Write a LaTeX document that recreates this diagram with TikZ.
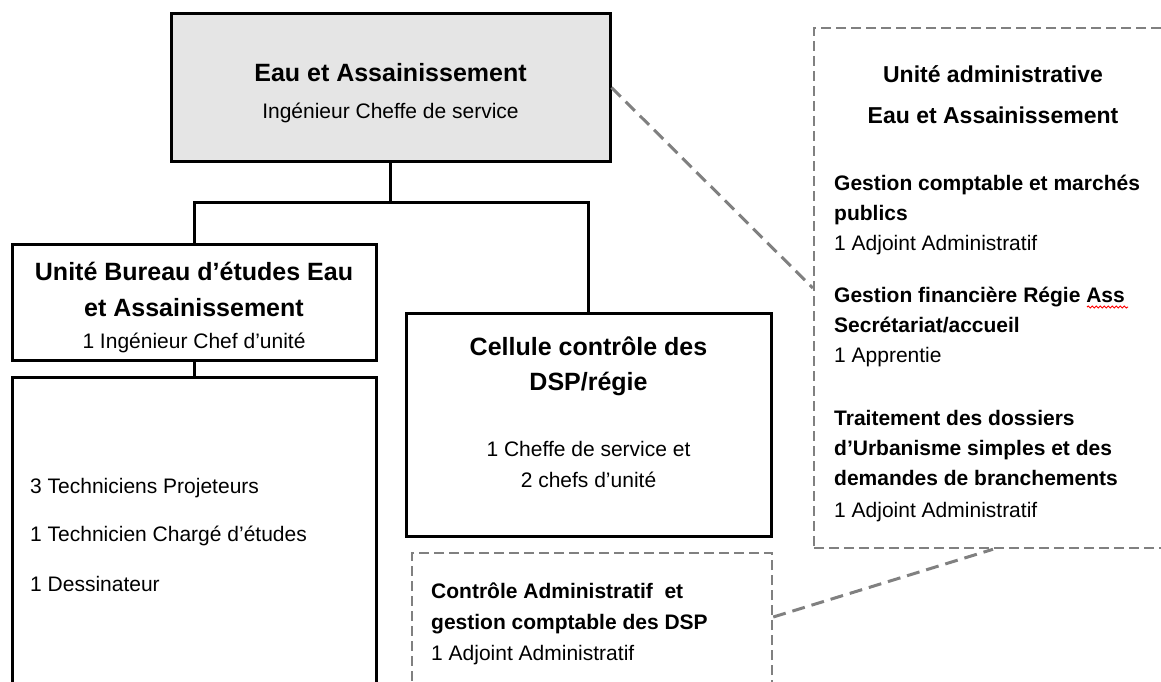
\documentclass[tikz,border=0pt]{standalone}
\usepackage{fontspec}
\setmainfont{Liberation Sans}
\usetikzlibrary{decorations.pathmorphing}

\begin{document}
\begin{tikzpicture}[x=1pt,y=-1pt,
    boite/.style={draw=black,line width=3pt,inner sep=0pt},
    cadre/.style={draw=gray,line width=2.5pt,dash pattern=on 10pt off 5pt,inner sep=0pt},
    lien/.style={draw=black,line width=3pt},
    renvoi/.style={draw=gray,line width=3pt,dash pattern=on 13pt off 7pt},
    titre/.style={font=\fontsize{25}{30}\selectfont\bfseries,anchor=base,inner sep=0pt},
    entete/.style={font=\fontsize{23}{28}\selectfont\bfseries,anchor=base,inner sep=0pt},
    centre/.style={font=\fontsize{21}{25}\selectfont,anchor=base,inner sep=0pt},
    gras/.style={font=\fontsize{21}{25}\selectfont\bfseries,anchor=base west,inner sep=0pt},
    texte/.style={font=\fontsize{21}{25}\selectfont,anchor=base west,inner sep=0pt}]
    \useasboundingbox (0,0) rectangle (1161,682);
    \clip (0,0) rectangle (1161,682);
    \node[boite,fill=gray!20,minimum width=439pt,minimum height=147pt] (chef) at (390.5,87.5) {};
    \node[boite,minimum width=364pt,minimum height=116pt] (bureau) at (194,302) {};
    \node[boite,minimum width=364pt,minimum height=343pt] (liste) at (194,548.5) {};
    \node[boite,minimum width=365pt,minimum height=223pt] (cellule) at (588.5,424.5) {};
    \node[cadre,minimum width=360pt,minimum height=167pt] (dsp) at (592,636.5) {};
    \node[cadre,minimum width=386pt,minimum height=520pt] (admin) at (1007,288) {};
    \coordinate (jonction) at (390.5,202);
    \draw[lien] (chef.south) -- (jonction);
    \draw[lien] (jonction) -| (bureau.north);
    \draw[lien] (jonction) -| (cellule.north);
    \draw[lien] (bureau.south) -- (liste.north);
    \draw[renvoi] (chef.east) -- (admin.west);
    \draw[renvoi] ([yshift=19.5pt]dsp.east) -- ([xshift=-14pt]admin.south);
    \node[titre] (chefT) at (390.5,82) {Eau et Assainissement};
    \node[centre] (chefS) at (390.5,118) {Ingénieur Cheffe de service};
    \node[titre] (bureauT1) at (194,280) {Unité Bureau d’études Eau};
    \node[titre] (bureauT2) at (194,316) {et Assainissement};
    \node[centre] (bureauS) at (194,348) {1 Ingénieur Chef d’unité};
    \node[texte] (liste1) at (30,493) {3 Techniciens Projeteurs};
    \node[texte] (liste2) at (30,541) {1 Technicien Chargé d’études};
    \node[texte] (liste3) at (30,591) {1 Dessinateur};
    \node[titre] (celluleT1) at (588.5,355) {Cellule contrôle des};
    \node[titre] (celluleT2) at (588.5,390) {DSP/régie};
    \node[centre] (celluleS1) at (588.5,456) {1 Cheffe de service et};
    \node[centre] (celluleS2) at (588.5,487) {2 chefs d’unité};
    \node[gras] (dsp1) at (431,598) {Contrôle Administratif\ \ et};
    \node[gras] (dsp2) at (431,629) {gestion comptable des DSP};
    \node[texte] (dsp3) at (431,660) {1 Adjoint Administratif};
    \node[entete] (adminT1) at (993,83) {Unité administrative};
    \node[entete] (adminT2) at (993,124) {Eau et Assainissement};
    \node[gras] (compta1) at (834,190) {Gestion comptable et marchés};
    \node[gras] (compta2) at (834,220) {publics};
    \node[texte] (compta3) at (834,250) {1 Adjoint Administratif};
    \node[gras] (regie) at (834,302) {Gestion financière Régie Ass};
    \node[gras] (accueil) at (834,332) {Secrétariat/accueil};
    \node[texte] (accueil2) at (834,362) {1 Apprentie};
    \node[gras] (urba1) at (834,425) {Traitement des dossiers};
    \node[gras] (urba2) at (834,455) {d’Urbanisme simples et des};
    \node[gras] (urba3) at (834,485) {demandes de branchements};
    \node[texte] (urba4) at (834,517) {1 Adjoint Administratif};
    \draw[red,line width=1pt,decorate,decoration={snake,amplitude=1pt,segment length=4pt}] ([xshift=-38pt,yshift=-5pt]regie.base east) -- ([xshift=3pt,yshift=-5pt]regie.base east);
\end{tikzpicture}
\end{document}
